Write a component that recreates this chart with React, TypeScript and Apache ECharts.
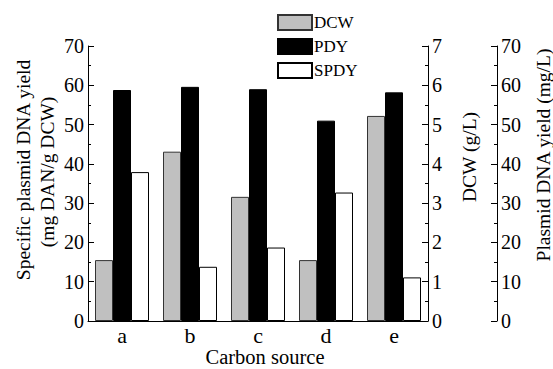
import React, { useEffect, useRef } from "react";
import * as echarts from "echarts";

const categories = ["a", "b", "c", "d", "e"];
const dcw = [1.55, 4.31, 3.16, 1.55, 5.22];
const pdy = [58.8, 59.6, 59.0, 51.0, 58.2];
const spdy = [37.9, 13.8, 18.7, 32.7, 11.1];
const seriesNames = ["DCW", "PDY", "SPDY"];

const FONT = "Liberation Serif";

function valueAxis(position: string, max: number, interval: number, offset: number) {
  return {
    type: "value",
    position,
    offset,
    min: 0,
    max,
    interval,
    axisLine: { show: true, onZero: false, lineStyle: { color: "#000", width: 1 } },
    axisTick: { show: true, inside: true, length: 6, lineStyle: { color: "#000", width: 1 } },
    minorTick: { show: true, splitNumber: 2, length: 3, lineStyle: { color: "#000", width: 1 } },
    splitLine: { show: false },
    axisLabel: { color: "#000", fontSize: 20, fontFamily: FONT, margin: 4 },
  };
}

export default function App() {
  const ref = useRef<HTMLDivElement>(null);
  useEffect(() => {
    if (!ref.current) return;
    const chart = echarts.init(ref.current, undefined, { renderer: "svg" });
    chart.setOption({
      animation: false,
      backgroundColor: "#fff",
      grid: { left: 88, right: 125, top: 46, bottom: 48, containLabel: false },
      legend: {
        orient: "vertical",
        left: 277,
        top: 14,
        padding: 0,
        itemWidth: 34,
        itemHeight: 15,
        itemGap: 7,
        icon: "rect",
        data: seriesNames,
        textStyle: { color: "#000", fontSize: 17, fontFamily: FONT, padding: [0, 0, 0, -3] },
      },
      xAxis: {
        type: "category",
        data: categories,
        axisLine: { show: true, lineStyle: { color: "#000", width: 1 } },
        axisTick: { show: false },
        axisLabel: { color: "#000", fontSize: 22, lineHeight: 18, fontFamily: FONT, margin: 5 },
        splitLine: { show: false },
      },
      yAxis: [
        valueAxis("left", 70, 10, 0),
        valueAxis("right", 7, 1, 0),
        valueAxis("right", 70, 10, 69),
      ],
      series: [
        {
          name: seriesNames[0],
          type: "bar",
          yAxisIndex: 1,
          data: dcw,
          barWidth: 18,
          barGap: "0%",
          itemStyle: { color: "#c0c0c0", borderColor: "#333", borderWidth: 1 },
        },
        {
          name: seriesNames[1],
          type: "bar",
          yAxisIndex: 2,
          data: pdy,
          barWidth: 18,
          barGap: "0%",
          itemStyle: { color: "#000", borderColor: "#000", borderWidth: 1 },
        },
        {
          name: seriesNames[2],
          type: "bar",
          yAxisIndex: 0,
          data: spdy,
          barWidth: 18,
          barGap: "0%",
          itemStyle: { color: "#fff", borderColor: "#000", borderWidth: 1 },
        },
      ],
      graphic: [
        {
          type: "text",
          x: 23,
          y: 170,
          rotation: Math.PI / 2,
          style: { text: "Specific plasmid DNA yield", fontSize: 19.5, fontFamily: FONT, fill: "#000", align: "center", verticalAlign: "middle" },
        },
        {
          type: "text",
          x: 47,
          y: 172,
          rotation: Math.PI / 2,
          style: { text: "(mg DAN/g DCW)", fontSize: 19.5, fontFamily: FONT, fill: "#000", align: "center", verticalAlign: "middle" },
        },
        {
          type: "text",
          x: 469,
          y: 157,
          rotation: Math.PI / 2,
          style: { text: "DCW (g/L)", fontSize: 19.5, fontFamily: FONT, fill: "#000", align: "center", verticalAlign: "middle" },
        },
        {
          type: "text",
          x: 543,
          y: 155,
          rotation: Math.PI / 2,
          style: { text: "Plasmid DNA yield (mg/L)", fontSize: 19.5, fontFamily: FONT, fill: "#000", align: "center", verticalAlign: "middle" },
        },
        {
          type: "text",
          x: 265,
          y: 357,
          style: { text: "Carbon source", fontSize: 20.5, lineHeight: 18, fontFamily: FONT, fill: "#000", align: "center", verticalAlign: "middle" },
        },
      ],
    });
    return () => chart.dispose();
  }, []);
  return (
    <div
      ref={ref}
      style={{ position: "fixed", left: 0, top: 0, width: 553, height: 369, background: "#fff" }}
    />
  );
}
